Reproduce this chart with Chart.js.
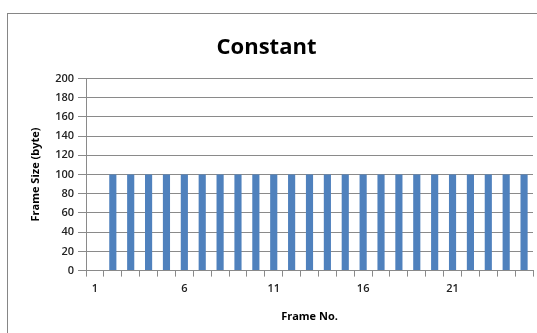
<!DOCTYPE html>
<html>
<head>
    <title>Constant</title>
    <script src="https://cdn.jsdelivr.net/npm/chart.js"></script>
    <style>
        html, body {
            margin: 0;
            padding: 0;
            background-color: white;
            overflow: hidden;
        }
        .wrap {
            position: relative;
            width: 537px;
            height: 333px;
        }
        .frame {
            position: absolute;
            left: 7px;
            top: 13px;
            width: 700px;
            height: 500px;
            border: 1px solid #868686;
            pointer-events: none;
        }
        canvas {
            position: absolute;
            left: 0;
            top: 0;
        }
    </style>
</head>
<body>
    <div class="wrap">
        <canvas id="frameChart" width="537" height="333"></canvas>
        <div class="frame"></div>
    </div>

    <script>
        const frameNumbers = ['1', '2', '3', '4', '5', '6', '7', '8', '9', '10', '11', '12', '13',
            '14', '15', '16', '17', '18', '19', '20', '21', '22', '23', '24', '25'];
        const frameSizes = [0, 100, 100, 100, 100, 100, 100, 100, 100, 100, 100, 100, 100,
            100, 100, 100, 100, 100, 100, 100, 100, 100, 100, 100, 100];
        const yMin = 0;
        const yMax = 200;
        const yStep = 20;

        const fontFamily = '"Open Sans", "Liberation Sans", sans-serif';
        const gridColor = '#8a8a8a';

        const ctx = document.getElementById('frameChart').getContext('2d');
        const frameChart = new Chart(ctx, {
            type: 'bar',
            data: {
                labels: frameNumbers,
                datasets: [{
                    label: 'Frame Size',
                    data: frameSizes,
                    backgroundColor: '#4F81BD',
                    borderWidth: 0,
                    categoryPercentage: 1.0,
                    barPercentage: 0.4
                }]
            },
            options: {
                responsive: false,
                animation: false,
                layout: {
                    padding: { left: 0, right: 4, top: 0, bottom: 10 }
                },
                plugins: {
                    legend: { display: false },
                    tooltip: { enabled: false },
                    title: {
                        display: true,
                        text: 'Constant',
                        color: '#000',
                        font: { family: fontFamily, size: 22, weight: 'bold' },
                        padding: { top: 35, bottom: 17 }
                    }
                },
                scales: {
                    x: {
                        offset: true,
                        grid: {
                            offset: true,
                            drawOnChartArea: false,
                            drawTicks: true,
                            tickLength: 6,
                            color: gridColor
                        },
                        border: { display: true, color: gridColor },
                        ticks: {
                            autoSkip: false,
                            maxRotation: 0,
                            padding: 6,
                            color: '#222',
                            font: { family: fontFamily, size: 11, weight: '600' },
                            callback: function (value, index) {
                                return index % 5 === 0 ? frameNumbers[index] : '';
                            }
                        },
                        title: {
                            display: true,
                            text: 'Frame No.',
                            color: '#000',
                            font: { family: fontFamily, size: 11, weight: 'bold' },
                            padding: { top: 8, bottom: 0 }
                        }
                    },
                    y: {
                        min: yMin,
                        max: yMax,
                        grid: {
                            color: gridColor,
                            drawTicks: true,
                            tickLength: 8
                        },
                        border: { display: true, color: gridColor },
                        ticks: {
                            stepSize: yStep,
                            padding: 4,
                            color: '#222',
                            font: { family: fontFamily, size: 11, weight: '600' }
                        },
                        title: {
                            display: true,
                            text: 'Frame Size (byte)',
                            color: '#000',
                            font: { family: fontFamily, size: 11, weight: 'bold' },
                            padding: { top: 29, bottom: 0 }
                        },
                        afterFit: function (scale) {
                            scale.width = 86;
                        }
                    }
                }
            }
        });
    </script>
</body>
</html>
